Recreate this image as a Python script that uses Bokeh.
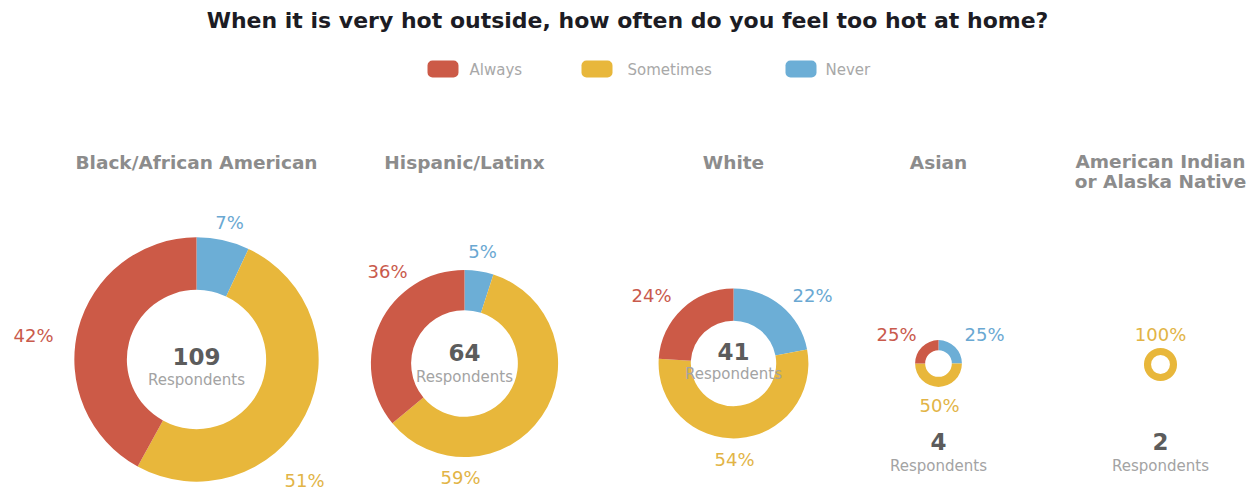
import math
from bokeh.plotting import figure
from bokeh.models import Range1d, ColumnDataSource
from bokeh.core.properties import value
from bokeh.embed import file_html
from bokeh.resources import INLINE

# ---------------- data ----------------
title = "When it is very hot outside, how often do you feel too hot at home?"
categories = ["Always", "Sometimes", "Never"]
groups = ["Black/African American", "Hispanic/Latinx", "White", "Asian",
          "American Indian\nor Alaska Native"]
respondents = [109, 64, 41, 4, 2]
always = [42, 36, 24, 25, 0]
sometimes = [51, 59, 54, 50, 100]
never = [7, 5, 22, 25, 0]

# ---------------- style / layout ----------------
colors = {"Always": "#cc5a47", "Sometimes": "#e8b73b", "Never": "#6caed6"}
label_colors = {"Always": "#c95a4c", "Sometimes": "#e2b446", "Never": "#6aa8d2"}
FONT = value("DejaVu Sans")

W, H = 1257, 493


def Y(iy):
    return H - iy


centers_x = [196, 464, 733, 938, 1160]
centers_y = [359, 363, 363, 363, 364]
scale_k = 11.7          # outer radius = k * sqrt(respondents)
inner_ratio = 0.57
# label positions (x, y) for Always / Sometimes / Never
label_pos = [
    {"Always": (33, 335), "Sometimes": (304, 480), "Never": (229, 222)},
    {"Always": (387, 271), "Sometimes": (460, 477), "Never": (482, 251)},
    {"Always": (651, 295), "Sometimes": (734, 459), "Never": (812, 295)},
    {"Always": (896, 334), "Sometimes": (939, 405), "Never": (984, 334)},
    {"Always": (1160, 334), "Sometimes": (1160, 334), "Never": (1160, 334)},
]
number_y = [356, 352, 351, 441, 441]
resp_y = [379, 376, 373, 465, 465]
title_y = 162
title_line_gap = 20

p = figure(width=W, height=H, x_range=Range1d(0, W), y_range=Range1d(0, H),
           output_backend="svg", toolbar_location=None, min_border=0)
p.axis.visible = False
p.grid.visible = False
p.outline_line_color = None
p.background_fill_color = "white"
p.border_fill_color = "white"

# main title
p.text(x=[627], y=[Y(20)], text=[title], text_font=FONT, text_font_style="bold",
       text_font_size="22px", text_color="#1c1c24", text_align="center",
       text_baseline="middle")

# legend
legend_box_x = [427, 581, 785]
legend_text_x = [469, 627, 825]
for cat, bx, tx in zip(categories, legend_box_x, legend_text_x):
    p.quad(left=[bx], right=[bx + 31], top=[Y(60)], bottom=[Y(77)],
           fill_color=colors[cat], line_color=None, border_radius=5)
    p.text(x=[tx], y=[Y(69)], text=[cat], text_font=FONT, text_font_size="15px",
           text_color="#a8a8a8", text_align="left", text_baseline="middle")

# donuts
wx, wy, wri, wro, ws, we, wc = [], [], [], [], [], [], []
full = []
for i, g in enumerate(groups):
    vals = {"Always": always[i], "Sometimes": sometimes[i], "Never": never[i]}
    total = sum(vals.values())
    ro = scale_k * math.sqrt(respondents[i])
    ri = ro * inner_ratio
    cx, cy = centers_x[i], Y(centers_y[i])
    start = 0.0
    for cat in ["Never", "Sometimes", "Always"]:
        v = vals[cat]
        if v == 0:
            continue
        frac = v / total
        if frac >= 0.999:
            full.append((cx, cy, ri, ro, colors[cat]))
        else:
            wx.append(cx); wy.append(cy); wri.append(ri); wro.append(ro)
            ws.append(math.pi / 2 - 2 * math.pi * start)
            we.append(math.pi / 2 - 2 * math.pi * (start + frac))
            wc.append(colors[cat])
        start += frac
        lx, ly = label_pos[i][cat]
        p.text(x=[lx], y=[Y(ly)], text=[f"{v}%"], text_font=FONT,
               text_font_size="18px", text_color=label_colors[cat],
               text_align="center", text_baseline="middle")

    # group title
    lines = g.split("\n")
    for j, line in enumerate(lines):
        p.text(x=[cx], y=[Y(title_y + j * title_line_gap - (0 if len(lines) == 1 else 1))],
               text=[line], text_font=FONT, text_font_style="bold",
               text_font_size="18.5px", text_color="#8c8c8c",
               text_align="center", text_baseline="middle")
    # respondents
    p.text(x=[cx], y=[Y(number_y[i])], text=[str(respondents[i])], text_font=FONT,
           text_font_style="bold", text_font_size="23px", text_color="#5c5c5c",
           text_align="center", text_baseline="middle")
    p.text(x=[cx], y=[Y(resp_y[i])], text=["Respondents"], text_font=FONT,
           text_font_size="15px", text_color="#a3a3a3",
           text_align="center", text_baseline="middle")

src = ColumnDataSource(dict(x=wx, y=wy, ri=wri, ro=wro, s=ws, e=we, c=wc))
p.annular_wedge(x="x", y="y", inner_radius="ri", outer_radius="ro",
                inner_radius_units="screen", outer_radius_units="screen",
                start_angle="s", end_angle="e", direction="clock",
                fill_color="c", line_color=None, source=src, level="underlay")
for cx, cy, ri, ro, col in full:
    p.annulus(x=[cx], y=[cy], inner_radius=[ri], outer_radius=[ro],
              inner_radius_units="screen", outer_radius_units="screen",
              fill_color=col, line_color=None, level="underlay")

open("out.html", "w").write(file_html(p, INLINE))
